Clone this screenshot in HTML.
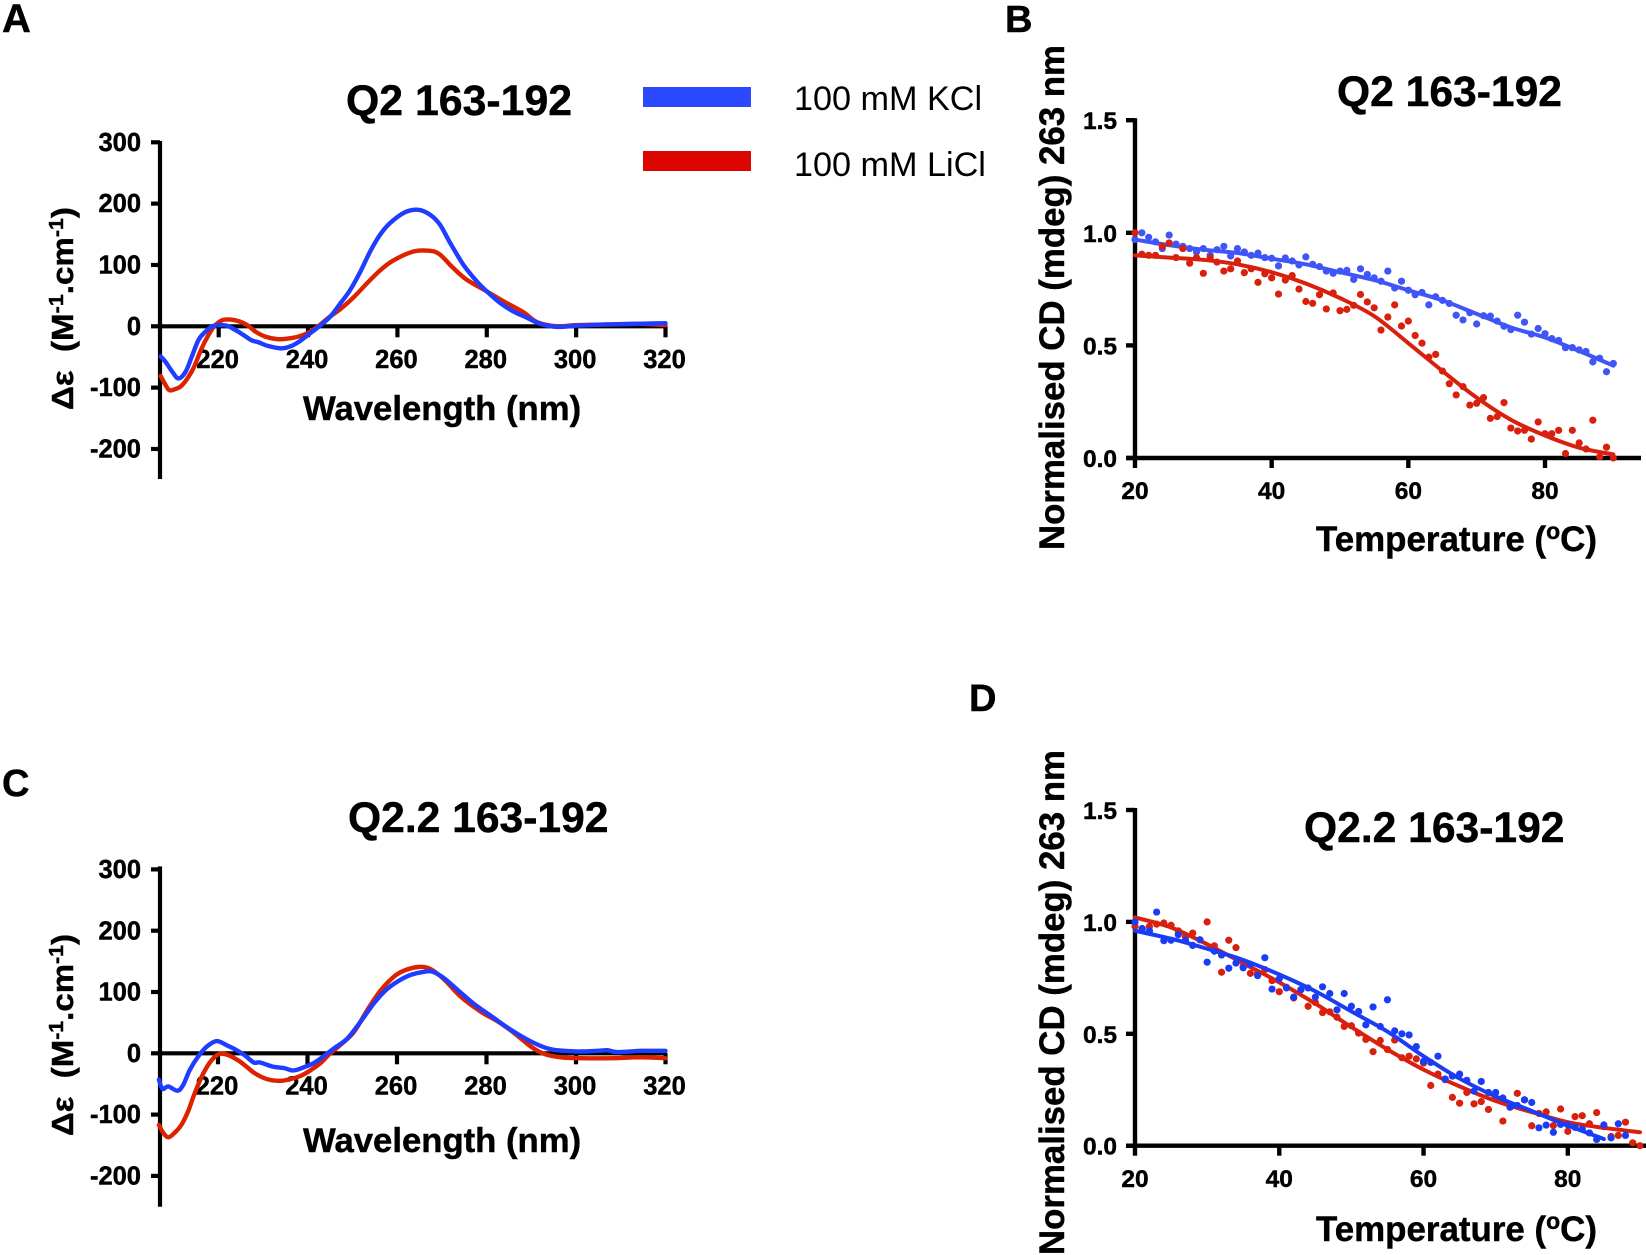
<!DOCTYPE html>
<html lang="en">
<head>
<meta charset="utf-8">
<title>CD spectra and melting curves</title>
<style>
html,body{margin:0;padding:0;background:#fff;}
svg{display:block;font-family:"Liberation Sans",sans-serif;}
text{fill:#000;}
.b{font-weight:700;stroke:#000;stroke-width:.45;}
</style>
</head>
<body>
<svg id="figure" xmlns="http://www.w3.org/2000/svg" width="1646" height="1255" viewBox="0 0 1646 1255">
<rect x="0" y="0" width="1646" height="1255" fill="#fff"/>

<text class="b" x="2" y="32" font-size="40">A</text>
<text class="b" x="1005" y="32" font-size="38">B</text>
<text class="b" x="2" y="796" font-size="38">C</text>
<text class="b" x="969" y="711" font-size="38">D</text>

<text class="b" x="346" y="115" font-size="42.8">Q2 163-192</text>
<text class="b" x="1337" y="106" font-size="42.6">Q2 163-192</text>
<text class="b" x="348" y="832" font-size="42.6">Q2.2 163-192</text>
<text class="b" x="1304" y="842" font-size="42.6">Q2.2 163-192</text>

<g>
<rect x="643" y="87" width="108" height="20" fill="#2b49ff"/>
<text x="794" y="110" font-size="34.2">100 mM KCl</text>
<rect x="643" y="151" width="108" height="20" fill="#dc0500"/>
<text x="794" y="176" font-size="34.2">100 mM LiCl</text>
</g>

<text class="b" transform="translate(73,410) rotate(-90)" font-size="31" textLength="203" lengthAdjust="spacingAndGlyphs" xml:space="preserve">Δε  (M<tspan font-size="20" dy="-10">-1</tspan><tspan dy="10">.cm</tspan><tspan font-size="20" dy="-10">-1</tspan><tspan dy="10">)</tspan></text>
<text class="b" transform="translate(73,1136) rotate(-90)" font-size="31" textLength="202" lengthAdjust="spacingAndGlyphs" xml:space="preserve">Δε  (M<tspan font-size="20" dy="-10">-1</tspan><tspan dy="10">.cm</tspan><tspan font-size="20" dy="-10">-1</tspan><tspan dy="10">)</tspan></text>
<text class="b" x="303" y="420" font-size="34.7">Wavelength (nm)</text>
<text class="b" x="303" y="1152" font-size="34.7">Wavelength (nm)</text>

<text class="b" transform="translate(1064,550) rotate(-90)" font-size="34.8" textLength="505" lengthAdjust="spacingAndGlyphs">Normalised CD (mdeg) 263 nm</text>
<text class="b" transform="translate(1064,1255) rotate(-90)" font-size="34.8" textLength="505" lengthAdjust="spacingAndGlyphs">Normalised CD (mdeg) 263 nm</text>
<text class="b" x="1316" y="551" font-size="35" textLength="281" lengthAdjust="spacingAndGlyphs">Temperature (<tspan font-size="23" dy="-12">o</tspan><tspan dy="12">C)</tspan></text>
<text class="b" x="1316" y="1241" font-size="35" textLength="281" lengthAdjust="spacingAndGlyphs">Temperature (<tspan font-size="23" dy="-12">o</tspan><tspan dy="12">C)</tspan></text>

<g id="plot-a"></g>
<g id="plot-b"></g>
<g id="plot-c"></g>
<g id="plot-d"></g>
</svg>

<script>
/* ---------- tick labels ---------- */
const spectrumXTicks = [220, 240, 260, 280, 300, 320];
const spectrumYTicks = [300, 200, 100, 0, -100, -200];
const meltXTicks = [20, 40, 60, 80];
const meltYTicks = [0, 0.5, 1, 1.5];
const meltYLabels = ['0.0', '0.5', '1.0', '1.5'];

/* ---------- panel A spectra ---------- */
const aKclNm = [207,208.1,209.6,211,212.6,214,215.5,217,218.5,220,221.8,223.7,225.5,227.4,228.9,231,234,236.3,238.2,240,242.7,245,247.2,249.4,251.7,253.9,256.1,258.3,261.7,264.7,267.3,269.5,271.8,274.8,277.8,280,283,286,289,292,295.7,300,306.9,313.6,320];
const aKclValues = [-49,-58,-74,-85,-74,-49,-22,-9,0,2,1,-6,-14,-23,-26,-32,-36,-32,-24,-14,1,16,37,59,89,122,149,168,186,190,182,166,136,100,73,57,38,24,14,4,-1,1,3,4,5];
const aLiclNm = [207,207.9,208.9,210,211.5,213,214.5,216,217.5,219,220.8,222.7,224.6,226.4,228.3,230.5,233.2,235.4,237.7,239.9,242.1,244.4,247.4,250.3,253.3,256.1,259,263.6,267.3,269.5,272.5,275.5,280,283.7,288.2,291.2,295.7,300,306.9,313.6,320];
const aLiclValues = [-81,-93,-104,-103,-98,-85,-66,-39,-17,0,10,11,8,2,-9,-17,-21,-20,-17,-11,-1,13,29,48,71,91,107,122,123,117,95,76,57,41,23,7,0,2,3,4,2];

/* ---------- panel C spectra ---------- */
const cKclNm = [206.8,207.6,208.9,210.9,212.2,213.7,215.6,217.5,219.7,222,224.2,226.1,228,229.4,232.4,234.7,236.9,239.1,241.4,243.6,245.9,248.9,251.9,254.9,257.5,260.1,263.1,266.1,268,270.6,273.6,277.3,281,285.5,290,294.4,300.3,304.8,307,309.3,314.4,320];
const cKclValues = [-43,-58,-54,-61,-52,-27,-5,11,20,13,5,-4,-15,-15,-22,-24,-28,-23,-16,-5,8,24,52,82,103,117,128,133,133,122,103,80,61,38,19,6.5,3,4,5,2,4,4];
const cLiclNm = [206.8,207.7,208.9,210.4,211.8,213.3,214.8,216.7,218.6,220.4,222.3,224.6,226.4,228.3,230.9,233.9,236.2,238.4,240.6,242.9,245.1,247.4,250.4,253.4,256.4,259.3,261.6,265,267.6,270.6,274.3,278.7,282.5,286.2,289.9,292.9,296.6,301,308.5,314.4,320];
const cLiclValues = [-117,-129,-137,-129,-117,-95,-65,-33,-11,-1,-3,-12,-22,-33,-42,-45,-42,-37,-28,-16,0,14,35,71,103,125,135,141,137,120,92,68,52,33,11,-1,-6.5,-8,-8,-6.5,-8];

/* ---------- melting data ---------- */
const dotTemperatures = [20,21,22,23,24,25,26,27,28,29,30,31,32,33,34,35,36,37,38,39,40,41,42,43,44,45,46,47,48,49,50,51,52,53,54,55,56,57,58,59,60,61,62,63,64,65,66,67,68,69,70,71,72,73,74,75,76,77,78,79,80,81,82,83,84,85,86,87,88,89,90];
const fitTemperatures = [20,25,30,35,40,45,50,55,60,65,70,75,80,85,90];

const bKclDots = [.97,1,.98,.96,.93,.99,.95,.94,.93,.915,.93,.9,.925,.94,.897,.93,.915,.9,.91,.89,.887,.853,.888,.875,.857,.893,.86,.85,.83,.82,.83,.833,.793,.84,.815,.8,.785,.83,.755,.785,.745,.725,.735,.68,.716,.7,.686,.634,.613,.645,.595,.632,.63,.608,.585,.57,.634,.603,.55,.575,.552,.53,.522,.49,.49,.48,.473,.427,.443,.383,.42];
const bLiclDots = [1,.905,.9,.9,.94,.955,.89,.93,.865,.89,.82,.89,.87,.83,.84,.875,.823,.84,.78,.818,.8,.728,.79,.81,.75,.695,.687,.725,.662,.733,.654,.66,.678,.726,.693,.667,.568,.626,.68,.586,.608,.544,.51,.448,.46,.386,.33,.28,.317,.235,.243,.268,.176,.184,.246,.133,.12,.123,.084,.16,.108,.108,.123,.02,.123,.067,.04,.168,.005,.048,0];
const bKclFit = [.97,.945,.925,.91,.885,.86,.825,.79,.745,.7,.64,.58,.535,.475,.41];
const bLiclFit = [.9,.89,.88,.86,.825,.775,.71,.63,.51,.386,.268,.17,.1,.046,.016];

const dKclDots = [1,.97,.96,1.044,.916,.918,.943,.918,.895,.92,.82,.869,.852,.793,.816,.795,.81,.76,.84,.7,.746,.705,.664,.697,.705,.664,.71,.68,.607,.68,.623,.6,.54,.62,.533,.652,.513,.5,.495,.443,.377,.372,.4,.298,.311,.32,.292,.244,.287,.238,.238,.213,.172,.18,.205,.193,.08,.092,.06,.095,.093,.082,.074,.057,.028,.093,.035,.098,.046];
const dLiclDots = [.98,.97,.98,.99,.995,.985,.96,.935,.95,.92,1,.893,.775,.918,.885,.8,.77,.77,.787,.738,.688,.708,.66,.697,.623,.64,.595,.598,.574,.533,.536,.503,.475,.42,.47,.43,.472,.393,.4,.388,.369,.269,.32,.295,.216,.19,.238,.187,.197,.162,.213,.11,.172,.234,.205,.089,.144,.151,.09,.164,.064,.13,.134,.098,.148,.085,.041,.046,.105,.013,0];
const dKclFit = [.96,.925,.88,.83,.765,.69,.6,.51,.4,.3,.22,.155,.09,.03];
const dLiclFit = [1.02,.975,.9,.815,.73,.635,.53,.43,.34,.265,.2,.15,.105,.08,.06];

/* ---------- drawing ---------- */
const SVGNS = 'http://www.w3.org/2000/svg';
function linearScale(d0, d1, r0, r1) {
  return function (v) { return r0 + (v - d0) * (r1 - r0) / (d1 - d0); };
}
function smoothPath(xs, ys) {
  let d = 'M' + xs[0].toFixed(2) + ' ' + ys[0].toFixed(2);
  for (let i = 0; i < xs.length - 1; i++) {
    const a = Math.max(i - 1, 0), b = i + 1, c = Math.min(i + 2, xs.length - 1);
    const x1 = xs[i] + (xs[b] - xs[a]) / 6, y1 = ys[i] + (ys[b] - ys[a]) / 6;
    const x2 = xs[b] - (xs[c] - xs[i]) / 6, y2 = ys[b] - (ys[c] - ys[i]) / 6;
    d += 'C' + x1.toFixed(2) + ' ' + y1.toFixed(2) + ' ' + x2.toFixed(2) + ' ' + y2.toFixed(2) + ' ' + xs[b].toFixed(2) + ' ' + ys[b].toFixed(2);
  }
  return d;
}
function addLine(parent, x1, y1, x2, y2, w, name) {
  const el = document.createElementNS(SVGNS, 'line');
  el.setAttribute('x1', x1);
  el.setAttribute('y1', y1);
  el.setAttribute('x2', x2);
  el.setAttribute('y2', y2);
  el.setAttribute('stroke', '#000');
  el.setAttribute('stroke-width', w);
  
  
  parent.appendChild(el);
}
function addLabel(parent, x, y, str, anchor, size, name) {
  const el = document.createElementNS(SVGNS, 'text');
  el.setAttribute('x', x);
  el.setAttribute('y', y);
  el.setAttribute('text-anchor', anchor);
  el.setAttribute('font-size', size);
  el.setAttribute('class', 'b');
  
  
  el.textContent = str;
  parent.appendChild(el);
}
function addCurve(parent, xs, ys, color, width, name) {
  const el = document.createElementNS(SVGNS, 'path');
  el.setAttribute('d', smoothPath(xs, ys));
  el.setAttribute('fill', 'none');
  el.setAttribute('stroke', color);
  el.setAttribute('stroke-width', width);
  el.setAttribute('stroke-linejoin', 'round');
  el.setAttribute('stroke-linecap', 'round');
  
  
  parent.appendChild(el);
}
function addDot(parent, cx, cy, color, name) {
  const el = document.createElementNS(SVGNS, 'circle');
  el.setAttribute('cx', cx);
  el.setAttribute('cy', cy);
  el.setAttribute('r', 3.6);
  el.setAttribute('fill', color);
  
  
  parent.appendChild(el);
}

function drawSpectrum(id, x, y, axisTop, axisBottom, labelBase, xEnd, series) {
  const g = document.getElementById(id);
  const axisX = 160;
  addLine(g, axisX, axisTop, axisX, axisBottom, 4.2, 'y-axis');
  addLine(g, axisX, y(0), xEnd, y(0), 4.2, 'x-axis-zero-line');
  spectrumYTicks.forEach(function (t) {
    addLine(g, 151, y(t), axisX, y(t), 4.2, 'y-tick');
    addLabel(g, 141, y(t) + 8.6, String(t), 'end', 25.5, 'y-tick-label');
  });
  spectrumXTicks.forEach(function (t) {
    addLine(g, x(t), y(0), x(t), y(0) + 11, 4.2, 'x-tick');
    addLabel(g, x(t) - 1, labelBase, String(t), 'middle', 25.5, 'x-tick-label');
  });
  series.forEach(function (s) {
    addCurve(g, s.nm.map(x), s.values.map(y), s.color, 4.4, s.name);
  });
}

function drawMelt(id, x, y, axisEnd, labelBase, series) {
  const g = document.getElementById(id);
  const axisX = x(20);
  addLine(g, axisX, y(1.5) - 2, axisX, y(0) + 2, 4.4, 'y-axis');
  addLine(g, axisX - 9, y(0), axisEnd, y(0), 4.4, 'x-axis');
  meltYTicks.forEach(function (t, i) {
    addLine(g, axisX - 9, y(t), axisX, y(t), 4.4, 'y-tick');
    addLabel(g, 1117, y(t) + 9, meltYLabels[i], 'end', 24.5, 'y-tick-label');
  });
  meltXTicks.forEach(function (t) {
    addLine(g, x(t), y(0), x(t), y(0) + 10, 4.4, 'x-tick');
    addLabel(g, x(t), labelBase, String(t), 'middle', 24.5, 'x-tick-label');
  });
  series.forEach(function (s) {
    s.dots.forEach(function (v, i) {
      addDot(g, x(dotTemperatures[i]), y(v), s.color, s.name + '-point');
    });
    const fx = s.fit.map(function (v, i) { return x(fitTemperatures[i]); });
    const fy = s.fit.map(y);
    addCurve(g, fx, fy, s.color, 4, s.name + '-fit');
  });
}

drawSpectrum('plot-a', linearScale(220, 320, 218.7, 665.5), linearScale(0, 300, 326.3, 142.3), 141, 479, 368, 667, [
  {nm: aLiclNm, values: aLiclValues, color: '#dd2200', name: 'licl-spectrum'},
  {nm: aKclNm, values: aKclValues, color: '#1f3dff', name: 'kcl-spectrum'}
]);
drawSpectrum('plot-c', linearScale(220, 320, 218, 665.5), linearScale(0, 300, 1053.3, 869.4), 866.4, 1206.7, 1094.5, 667, [
  {nm: cLiclNm, values: cLiclValues, color: '#dd2200', name: 'licl-spectrum'},
  {nm: cKclNm, values: cKclValues, color: '#1f3dff', name: 'kcl-spectrum'}
]);
drawMelt('plot-b', linearScale(20, 80, 1135, 1545), linearScale(0, 1.5, 458, 120.2), 1641, 499, [
  {dots: bKclDots, fit: bKclFit, color: '#3f55f8', name: 'kcl-melt'},
  {dots: bLiclDots, fit: bLiclFit, color: '#d8200c', name: 'licl-melt'}
]);
drawMelt('plot-d', linearScale(20, 80, 1135, 1567.8), linearScale(0, 1.5, 1145.7, 810), 1646, 1187, [
  {dots: dLiclDots, fit: dLiclFit, color: '#d8200c', name: 'licl-melt'},
  {dots: dKclDots, fit: dKclFit, color: '#1a3cf5', name: 'kcl-melt'}
]);
</script>
</body>
</html>
